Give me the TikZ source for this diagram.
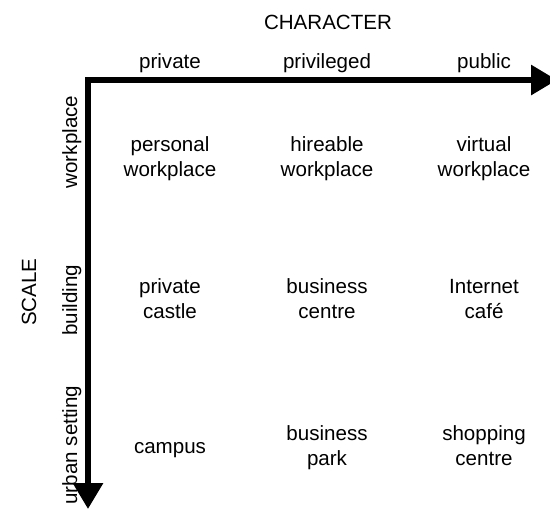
\documentclass[tikz,border=0pt]{standalone}
\usepackage{fontspec}
\setmainfont{Liberation Sans}
\usetikzlibrary{arrows.meta}
\tikzset{
  every picture/.style={font=\fontsize{11.7}{14.2}\selectfont},
  axis/.style={{Triangle[length=5.2mm, width=5.8mm]}-{Triangle[length=5.2mm, width=5.8mm]}, line width=1.2mm, line join=miter},
  head/.style={anchor=base, inner sep=0pt},
  side/.style={anchor=base, rotate=90, inner sep=0pt},
  cell/.style={align=center, inner sep=0pt, execute at begin node=\strut, execute at end node=\strut},
}

\begin{document}
\begin{tikzpicture}
  \useasboundingbox (0,0) rectangle (11,-10.18);
  % the two axes share one corner
  \coordinate (o) at (1.76,-1.6);
  \coordinate (xend) at (11.14,-1.6);
  \coordinate (yend) at (1.76,-10.18);
  \draw[axis] (xend) -- (o) -- (yend);

  \node[head] (char) at (6.56,-0.58) {CHARACTER};
  \node[head] (hpriv) at (3.4,-1.36) {private};
  \node[head] (hprivl) at (6.54,-1.36) {privileged};
  \node[head] (hpub) at (9.68,-1.36) {public};

  \node[side] (scale) at (0.72,-5.84) {SCALE};
  \node[side] (swork) at (1.54,-2.84) {workplace};
  \node[side] (sbuild) at (1.54,-6.0) {building};
  \node[side] (surban) at (1.54,-8.9) {urban setting};

  \node[cell] (pw) at (3.4,-3.2) {personal\\workplace};
  \node[cell] (hw) at (6.54,-3.2) {hireable\\workplace};
  \node[cell] (vw) at (9.68,-3.2) {virtual\\workplace};
  \node[cell] (pc) at (3.4,-6.05) {private\\castle};
  \node[cell] (bc) at (6.54,-6.05) {business\\centre};
  \node[cell] (ic) at (9.68,-6.05) {Internet\\café};
  \node[cell] (cp) at (3.4,-8.96) {campus};
  \node[cell] (bp) at (6.54,-8.99) {business\\park};
  \node[cell] (sc) at (9.68,-8.99) {shopping\\centre};
\end{tikzpicture}
\end{document}
